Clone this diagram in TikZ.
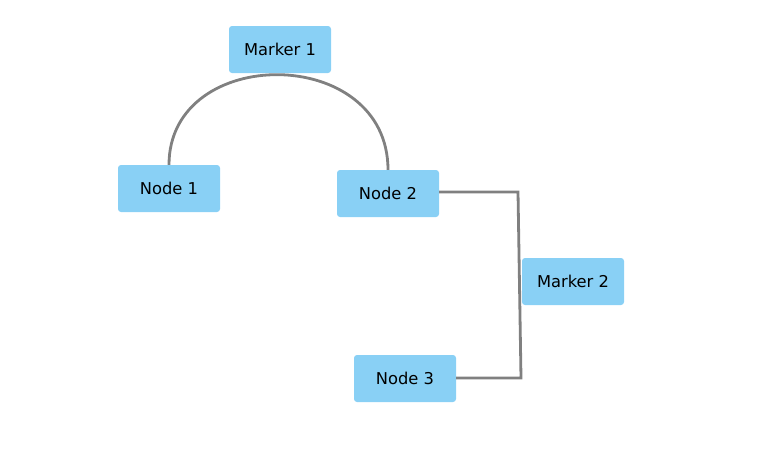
\documentclass[tikz,border=0pt]{standalone}
\usepackage{fontspec}
\setmainfont{DejaVu Sans}
\begin{document}
\begin{tikzpicture}[x=1pt,y=-1pt,
  box/.style={fill=boxblue, rounded corners=3pt, minimum width=102pt, minimum height=47pt, inner sep=0pt, font=\fontsize{16.3}{19}\selectfont},
  conn/.style={draw=linegray, line width=2.8pt}]
\definecolor{boxblue}{HTML}{89D0F5}
\definecolor{linegray}{HTML}{808080}
\useasboundingbox (0,0) rectangle (765,448);
\node[box] (m1) at (280,49.5) {Marker 1};
\node[box] (n1) at (169,188.5) {Node 1};
\node[box] (n2) at (388,193.5) {Node 2};
\node[box] (m2) at (573,281.5) {Marker 2};
\node[box] (n3) at (405,378.5) {Node 3};
\coordinate (c1) at (518,192);
\coordinate (c2) at (521,378);
\draw[conn] (n1.north) .. controls ([yshift=121pt]n1.north) and ([yshift=126pt]n2.north) .. (n2.north);
\draw[conn] (n2.east |- c1) -- (c1) -- (c2) -- (n3.east |- c2);
\end{tikzpicture}
\end{document}
